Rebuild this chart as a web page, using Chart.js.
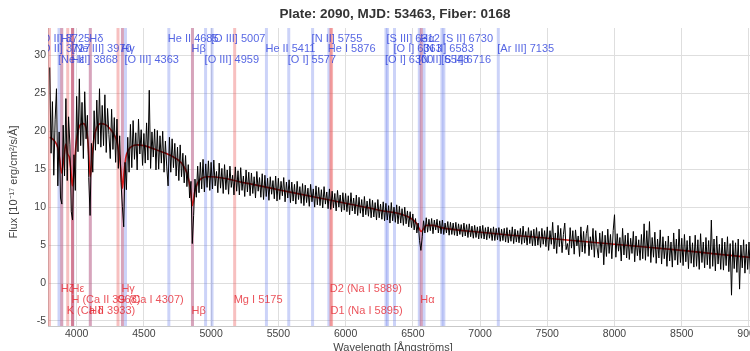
<!DOCTYPE html>
<html><head><meta charset="utf-8">
<script src="https://cdn.jsdelivr.net/npm/chart.js@4"></script>
<style>
html,body{margin:0;padding:0;overflow:hidden;background:#fff;width:750px;height:351px}
#wrap{width:790px;height:358px;position:relative}
</style></head>
<body><div id="wrap"><canvas id="c" width="790" height="358"></canvas></div>
<script>
// ---- data ----
const fluxStart = 3800, fluxStep = 10;   // wavelength grid of the flux samples (Å)
const flux = [
 28.4,17.1,23.9,14.2,21.5,25.6,12.8,19.9,11.2,10.4,
 20.8,14.1,24.3,13.5,21.9,18.2,9.4,8.3,16.9,12.2,
 24.6,17.3,26.9,18.1,23.8,16.4,25.2,19.0,22.1,13.9,
 8.9,18.4,14.6,22.7,17.5,24.1,18.3,25.6,17.9,23.4,
 18.1,24.8,17.2,23.0,19.6,16.4,22.9,17.6,21.8,15.9,
 21.6,15.1,19.4,13.2,10.1,7.4,15.9,12.3,19.2,14.6,
 20.9,15.2,21.4,16.3,19.8,14.9,21.6,17.0,20.2,15.5,
 19.7,15.8,21.1,16.2,25.4,15.1,19.9,16.6,20.3,14.9,
 20.1,15.0,19.4,15.8,20.0,14.6,18.7,15.3,12.8,19.2,
 14.6,19.0,15.2,18.4,14.1,17.9,13.5,18.2,14.0,17.1,
 13.2,16.8,12.7,15.6,11.2,13.4,5.2,8.9,13.7,11.3,
 15.4,11.9,15.9,12.4,16.3,12.0,15.7,12.6,16.1,12.2,
 15.9,12.4,16.2,12.8,14.7,11.9,15.8,12.5,15.1,11.8,
 15.6,12.3,14.9,11.7,15.4,12.6,14.2,11.6,15.3,12.1,
 14.8,11.6,15.2,12.2,14.1,11.4,14.9,12.0,14.6,11.5,
 14.5,11.8,14.0,11.2,14.7,12.1,13.9,11.3,14.4,11.0,
 14.2,11.4,13.8,10.9,14.0,11.7,13.5,11.1,14.1,10.8,
 13.8,11.0,13.4,11.5,13.9,10.7,13.3,11.2,13.6,10.6,
 13.3,10.8,13.0,10.4,13.4,11.0,12.7,10.5,13.1,10.2,
 12.9,10.6,12.5,10.1,13.0,10.7,12.4,10.0,12.8,10.3,
 12.6,10.2,12.3,9.9,12.7,10.4,12.0,9.8,12.4,9.7,
 12.1,9.9,11.8,9.5,12.2,10.0,11.6,9.4,11.9,9.6,
 11.8,9.4,11.5,9.0,11.9,9.5,11.2,9.1,11.6,8.9,
 11.3,9.2,11.0,8.7,11.4,9.0,10.8,8.8,11.1,8.6,
 10.9,8.7,10.6,8.3,11.0,8.6,10.4,8.4,10.7,8.2,
 10.5,8.3,10.2,7.9,10.6,8.2,10.0,8.0,10.3,7.8,
 10.1,7.9,9.8,7.6,10.0,7.8,9.5,7.4,9.4,7.3,
 9.1,7.0,8.5,6.6,7.9,5.6,4.3,6.1,8.2,6.6,
 8.6,6.7,8.4,6.9,8.5,6.5,8.3,7.0,8.4,6.6,
 8.2,6.5,8.3,6.4,7.9,6.6,8.1,6.3,8.0,6.4,
 7.9,6.3,8.0,6.2,7.8,6.4,7.7,6.1,7.9,6.2,
 7.7,6.0,7.8,6.1,7.5,5.9,7.6,6.0,7.4,5.8,
 7.5,5.9,7.6,5.8,7.3,5.7,7.4,5.9,7.2,5.6,
 7.4,5.6,7.2,5.7,7.3,5.5,7.1,5.6,7.2,5.4,
 7.3,5.3,7.0,5.5,7.4,5.2,7.1,5.4,6.9,5.3,
 7.2,5.1,7.5,5.3,6.8,5.0,7.3,5.2,6.9,4.9,
 7.1,4.9,7.3,5.0,6.8,4.7,7.2,5.1,6.9,4.8,
 7.4,4.3,6.9,5.1,8.0,4.5,6.6,3.9,7.6,4.8,
 7.2,4.0,6.4,7.9,4.4,5.2,3.7,7.3,4.6,6.9,
 3.8,7.0,4.9,6.2,3.5,7.4,4.1,6.8,3.9,6.5,
 7.6,3.6,6.1,4.4,7.2,3.4,6.9,4.7,3.3,6.6,
 4.0,6.8,2.4,6.3,3.5,7.1,3.9,6.4,3.2,6.9,
 9.0,3.4,6.5,4.2,6.0,2.9,7.2,3.7,6.3,3.3,
 6.6,3.1,5.9,3.9,6.8,2.8,6.2,3.6,5.7,3.0,
 6.4,3.2,7.8,3.0,6.9,3.5,8.1,2.7,6.0,3.4,
 6.7,2.6,5.8,3.3,7.0,2.5,6.1,3.2,5.5,2.2,
 6.2,2.9,5.4,2.1,6.6,3.0,5.8,2.4,7.1,2.7,
 5.9,2.3,6.4,2.8,5.6,1.9,6.2,2.6,5.3,2.1,
 6.3,2.2,5.7,1.8,6.5,2.7,5.4,2.0,6.0,2.4,
 5.6,1.9,8.3,2.2,5.8,1.6,6.2,2.5,5.1,1.8,
 5.9,1.7,5.4,2.3,6.1,1.5,5.2,-1.6,5.6,1.9,
 5.3,1.4,5.8,-0.8,5.0,2.0,5.7,1.3,5.1,1.8,
 5.4,1.2,4.9,1.9,5.2,1.4,4.8,1.7,4.6
];
const modelWave = [3800,3820,3840,3860,3875,3889,3905,3920,3933,3945,3955,3968,3980,3995,4010,4030,4050,4070,4085,4101,4115,4130,4150,4180,4210,4240,4270,4295,4315,4330,4340,4352,4365,4385,4410,4450,4500,4600,4700,4780,4820,4845,4861,4878,4900,4930,4970,5000,5250,5500,5750,6000,6250,6480,6530,6563,6600,6650,6710,7000,7500,8000,8500,9000,9080];
const modelFlux = [19.2,19.0,18.6,17.8,16.2,14.5,16.5,18.3,17.0,16.6,15.2,12.8,14.8,18.2,20.0,20.9,21.0,20.4,18.4,14.0,16.8,19.2,20.5,21.0,20.9,20.5,19.8,18.9,17.2,14.6,12.5,14.5,16.5,17.5,18.0,18.2,18.1,17.5,16.8,15.8,14.5,12.5,10.2,12.0,13.2,13.8,14.0,14.0,13.2,12.3,11.4,10.5,9.6,8.6,7.8,6.8,7.6,7.6,7.3,6.7,5.9,5.1,4.3,3.4,3.3];

const emissionNames = ['[O II] 3725','[O II] 3727','[Ne III] 3868','Hζ','[Ne III] 3970','Hε','Hδ','Hγ','[O III] 4363','He II 4685','Hβ','[O III] 4959','[O III] 5007','He II 5411','[O I] 5577','[N II] 5755','He I 5876','[O I] 6300','[S III] 6312','[O I] 6363','[N II] 6548','Hα','[N II] 6583','[S II] 6716','[S II] 6730','[Ar III] 7135'];
const emissionWaves = [3725.9,3727.4,3868.8,3889.0,3970.1,3970.1,4101.7,4340.5,4363.2,4685.7,4861.4,4958.9,5006.8,5411.5,5577.3,5754.6,5875.7,6300.3,6312.1,6363.8,6548.1,6562.8,6583.5,6716.4,6730.8,7135.8];
const absorptionNames = ['Hζ','K (Ca II 3933)','H (Ca II 3968)','Hε','Hδ','G (Ca I 4307)','Hγ','Hβ','Mg I 5175','D2 (Na I 5889)','D1 (Na I 5895)','Hα'];
const absorptionWaves = [3889.0,3933.7,3968.5,3970.1,4101.7,4307.7,4340.5,4861.4,5175.3,5889.9,5895.9,6562.8];
const extraAbsorptionWaves = [3798.0];
const xTicks = [4000,4500,5000,5500,6000,6500,7000,7500,8000,8500,9000];
const yTicks = [-5,0,5,10,15,20,25,30];

const titleText = 'Plate: 2090, MJD: 53463, Fiber: 0168';
const xTitle = 'Wavelength [Ångströms]';
const yTitle = 'Flux [10⁻¹⁷ erg/cm²/s/Å]';

// ---- drawing ----
const FONT = '"Liberation Sans", Arial, sans-serif';
const spectrum = flux.map((f,i)=>({x: fluxStart + i*fluxStep, y: f}));
const model = modelWave.map((w,i)=>({x: w, y: modelFlux[i]}));

const linePlugin = {
  id: 'specLines',
  beforeDatasetsDraw(chart){
    const {ctx, chartArea:a, scales:{x}} = chart;
    ctx.save();
    ctx.beginPath(); ctx.rect(a.left, a.top, a.right-a.left, a.bottom-a.top); ctx.clip();
    ctx.lineWidth = 3;
    ctx.strokeStyle = 'rgba(110,130,235,0.35)';
    emissionWaves.forEach(w=>{ const p=x.getPixelForValue(w); ctx.beginPath(); ctx.moveTo(p,a.top); ctx.lineTo(p,a.bottom); ctx.stroke(); });
    ctx.strokeStyle = 'rgba(235,90,90,0.38)';
    absorptionWaves.concat(extraAbsorptionWaves).forEach(w=>{ const p=x.getPixelForValue(w); ctx.beginPath(); ctx.moveTo(p,a.top); ctx.lineTo(p,a.bottom); ctx.stroke(); });
    ctx.restore();
  },
  afterDatasetsDraw(chart){
    const {ctx, chartArea:a, scales:{x}} = chart;
    ctx.save();
    ctx.beginPath(); ctx.rect(a.left, a.top, a.right-a.left, a.bottom-a.top); ctx.clip();
    ctx.font = '11px ' + FONT;
    ctx.textAlign = 'left'; ctx.textBaseline = 'middle';
    ctx.fillStyle = 'rgba(45,65,220,0.8)';
    emissionNames.forEach((n,i)=>{
      const p = x.getPixelForValue(emissionWaves[i]);
      ctx.fillText(n, p-1, a.top + 10.5 + (i%3)*10.5);
    });
    ctx.fillStyle = 'rgba(230,40,50,0.8)';
    const rowFromBottom = [2,0,1];
    absorptionNames.forEach((n,i)=>{
      const p = x.getPixelForValue(absorptionWaves[i]);
      ctx.fillText(n, p-1, a.bottom - 15.5 - rowFromBottom[i%3]*11);
    });
    ctx.restore();
  },
  afterDraw(chart){
    const ctx = chart.ctx;
    ctx.save();
    ctx.fillStyle = '#444';
    ctx.font = '11px ' + FONT;
    ctx.textAlign = 'center'; ctx.textBaseline = 'middle';
    ctx.fillText(xTitle, 393, 347.5);
    ctx.translate(14, 182);
    ctx.rotate(-Math.PI/2);
    ctx.fillText(yTitle, 0, 0);
    ctx.restore();
  }
};

new Chart(document.getElementById('c'), {
  type: 'line',
  data: { datasets: [
    { data: spectrum, borderColor: '#000', borderWidth: 1, pointRadius: 0, tension: 0 },
    { data: model, borderColor: 'rgb(215,25,25)', borderWidth: 1.6, pointRadius: 0, cubicInterpolationMode: 'monotone' }
  ]},
  options: {
    responsive: false, animation: false, devicePixelRatio: 1,
    layout: { padding: 0 },
    plugins: {
      legend: { display: false }, tooltip: { enabled: false },
      title: { display: true, text: titleText, color: '#333', font: { family: FONT, size: 13.5, weight: 'bold' }, padding: { top: 6, bottom: 5.8 } }
    },
    scales: {
      x: {
        type: 'linear', min: 3787, max: 9305,
        afterBuildTicks: s => { s.ticks = xTicks.map(v=>({value:v})); },
        afterFit: s => { s.height = 32; },
        ticks: { color: '#444', font: { family: FONT, size: 10.5 }, padding: 2, maxRotation: 0, autoSkip: false, callback: v => String(v) },
        grid: { color: '#dedede', drawTicks: false },
        border: { color: '#c8c8c8' },
        title: { display: false }
      },
      y: {
        type: 'linear', min: -5.66, max: 33.6,
        afterBuildTicks: s => { s.ticks = yTicks.map(v=>({value:v})); },
        afterFit: s => { s.width = 48; },
        ticks: { color: '#444', font: { family: FONT, size: 10.5 }, padding: 2, callback: v => String(v) },
        grid: { color: '#dedede', drawTicks: false },
        border: { color: '#c8c8c8' },
        title: { display: false }
      }
    }
  },
  plugins: [linePlugin]
});
</script>
</body></html>
